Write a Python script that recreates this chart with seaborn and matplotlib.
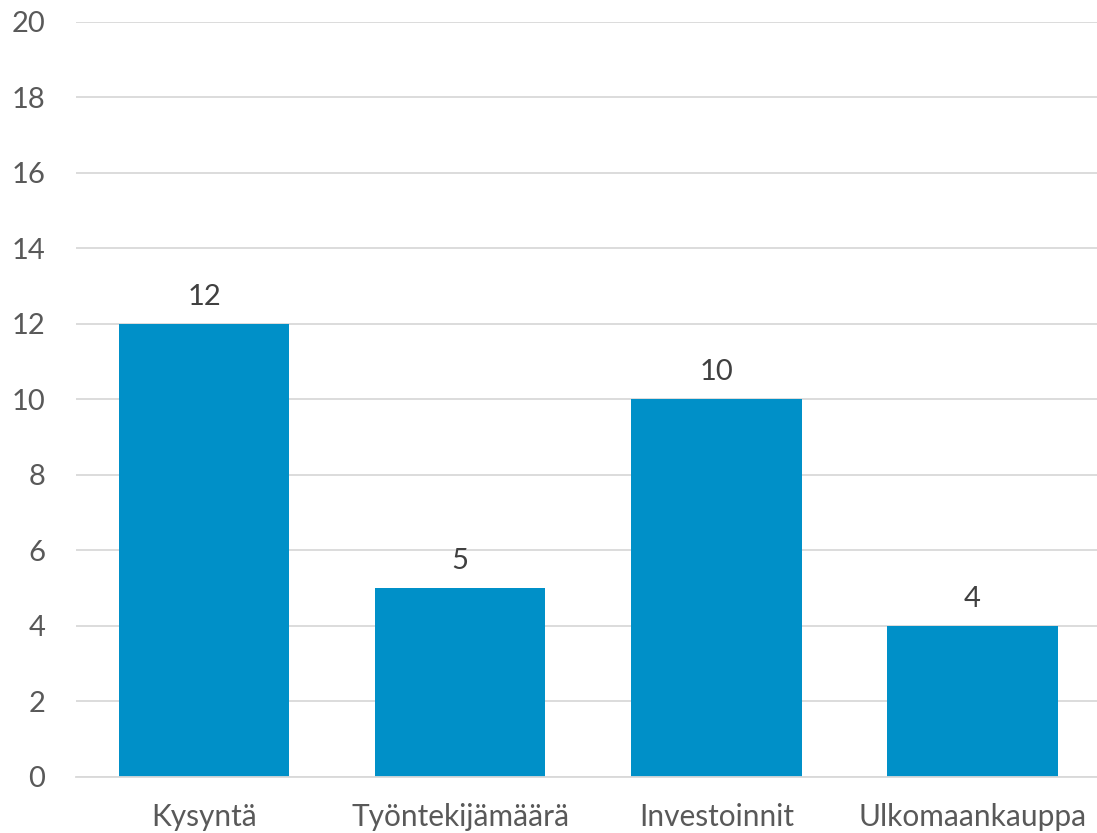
import matplotlib
matplotlib.use("Agg")
from matplotlib import pyplot as plt
import seaborn as sns
import pandas as pd

categories = ["Kysyntä", "Työntekijämäärä", "Investoinnit", "Ulkomaankauppa"]
values = [12, 5, 10, 4]
y_ticks = [0, 2, 4, 6, 8, 10, 12, 14, 16, 18, 20]

sns.set_style("white")
plt.rcParams['font.family'] = ['Lato', 'DejaVu Sans']

data = pd.DataFrame({"cat": categories, "val": values})

fig = plt.figure(figsize=(10.97, 8.33), dpi=100)
ax = fig.add_axes([0.0693, 0.0678, 0.9340, 0.9058])

sns.barplot(data=data, x="cat", y="val", color="#0090C8", saturation=1,
            width=0.665, linewidth=0, ax=ax)

ax.set_ylim(0, 20)
ax.set_yticks(y_ticks)
ax.yaxis.grid(True, color="#D9D9D9", linewidth=1.3)
ax.set_axisbelow(True)
for s in ["top", "right", "left"]:
    ax.spines[s].set_visible(False)
ax.spines["bottom"].set_color("#D9D9D9")
ax.spines["bottom"].set_linewidth(1.3)
ax.tick_params(axis="y", length=0, pad=22, labelsize=21, labelcolor="#595959")
ax.tick_params(axis="x", length=0, pad=19, labelsize=21.5, labelcolor="#595959")
ax.set_xlabel("")
ax.set_ylabel("")

for c in ax.containers:
    ax.bar_label(c, padding=10, fontsize=21, color="#404040")

fig.savefig("out.png", dpi=100)
